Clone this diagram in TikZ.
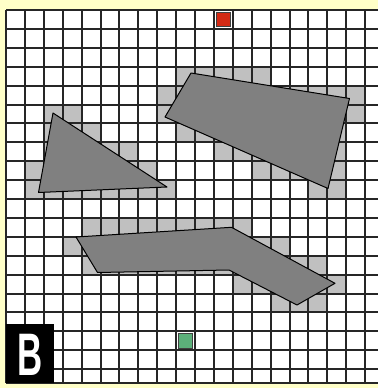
\documentclass[tikz,border=0pt]{standalone}
\usepackage{fontspec}
\setsansfont{Liberation Sans}
\definecolor{paper}{HTML}{FFFFC8}
\definecolor{cspace}{HTML}{C0C0C0}
\definecolor{obst}{HTML}{808080}
\definecolor{goalred}{HTML}{D42A14}
\definecolor{startgreen}{HTML}{5CB07A}
\tikzset{
  gridline/.style={line width=2pt,black!85},
  obstacle/.style={fill=obst,draw=black,line width=1pt,line join=round},
  cellmark/.style={minimum size=14.5pt,inner sep=0pt,draw=black!75,line width=1pt},
  letter/.style={text=white,inner sep=0pt,font=\sffamily\bfseries\fontsize{60}{60}\selectfont}
}
\begin{document}
\begin{tikzpicture}[x=1pt,y=-1pt,declare function={s=18.9; ox=6; oy=10; xr=378; yb=383;}]
\useasboundingbox (0,0) rectangle (378,388);
\fill[paper] (0,0) rectangle (378,388);
\fill[white] (ox,oy) rectangle (xr,yb);
% cells touched by an obstacle: column/first row/last row
\foreach \c/\a/\b in {1/8/9,2/5/9,3/5/9,4/6/9,5/7/9,6/7/9,7/8/9,8/9/9,
    8/4/5,9/3/6,10/3/6,11/3/7,12/3/7,13/3/8,14/4/8,15/4/8,16/4/9,17/4/9,18/4/5,
    3/12/12,4/11/13,5/11/13,6/11/13,7/11/13,8/11/13,9/11/13,10/11/13,11/11/13,
    12/11/14,13/12/14,14/12/15,15/13/15,16/13/15,17/14/14}
  \foreach \r in {\a,...,\b}
    \fill[cspace] ({ox+\c*s},{oy+\r*s}) rectangle +(s,s);
% grid
\begin{scope}
  \clip (ox-1,oy-1) rectangle (xr,yb);
  \foreach \i in {0,...,20}
    \draw[gridline] ({ox+\i*s},oy) -- ({ox+\i*s},yb);
  \foreach \i in {0,...,19}
    \draw[gridline] (ox,{oy+\i*s}) -- (xr,{oy+\i*s});
\end{scope}
\draw[gridline] (ox,yb) -- (xr,yb);
% obstacles
\path (53,113) coordinate (T1) (38.5,192.5) coordinate (T2) (167,187) coordinate (T3);
\path (191,73) coordinate (Q1) (349.5,98.5) coordinate (Q2)
      (328,188.5) coordinate (Q3) (165,117) coordinate (Q4);
\path (76,237) coordinate (P1) (231.5,227.3) coordinate (P2) (335,283.3) coordinate (P3)
      (297,305) coordinate (P4) (229,270) coordinate (P5) (97.5,272.5) coordinate (P6);
\draw[obstacle] (T1)--(T2)--(T3)--cycle;
\draw[obstacle] (Q1)--(Q2)--(Q3)--(Q4)--cycle;
\draw[obstacle] (P1)--(P2)--(P3)--(P4)--(P5)--(P6)--cycle;
% goal and start cells
\node[cellmark,fill=goalred] (goal) at ({ox+11.5*s},{oy+0.5*s}) {};
\node[cellmark,fill=startgreen] (start) at ({ox+9.5*s},{oy+17.5*s}) {};
% panel label
\fill[black] (ox,324) rectangle (54,yb);
\node[letter] (panel) at (30.5,355) {\scalebox{0.58}[1]{B}};
\end{tikzpicture}
\end{document}
